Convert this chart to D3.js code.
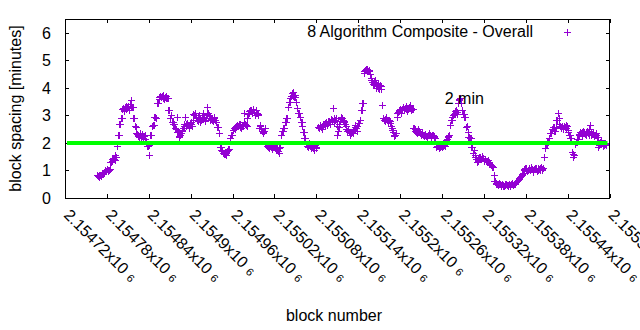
<!DOCTYPE html>
<html><head><meta charset="utf-8">
<script src="https://cdn.jsdelivr.net/npm/d3@7"></script>
<style>body{margin:0;background:#fff}svg{display:block}text{font-family:"Liberation Sans",Arial,sans-serif;fill:#000}</style>
</head><body><svg id="c" width="640" height="330"></svg>
<script>
const blocksEven=[
2154766,2154768,2154770,2154772,2154774,2154776,2154778,2154780,2154782,2154784,
2154786,2154788,2154790,2154792,2154794,2154796,2154798,2154800,2154802,2154804,
2154806,2154808,2154810,2154812,2154814,2154816,2154818,2154820,2154822,2154824,
2154826,2154828,2154830,2154832,2154834,2154836,2154838,2154840,2154842,2154844,
2154846,2154848,2154850,2154852,2154854,2154856,2154858,2154860,2154862,2154864,
2154866,2154868,2154870,2154872,2154874,2154876,2154878,2154880,2154882,2154884,
2154886,2154888,2154890,2154892,2154894,2154896,2154898,2154900,2154902,2154904,
2154906,2154908,2154910,2154912,2154914,2154916,2154918,2154920,2154922,2154924,
2154926,2154928,2154930,2154932,2154934,2154936,2154938,2154940,2154942,2154944,
2154946,2154948,2154950,2154952,2154954,2154956,2154958,2154960,2154962,2154964,
2154966,2154968,2154970,2154972,2154974,2154976,2154978,2154980,2154982,2154984,
2154986,2154988,2154990,2154992,2154994,2154996,2154998,2155000,2155002,2155004,
2155006,2155008,2155010,2155012,2155014,2155016,2155018,2155020,2155022,2155024,
2155026,2155028,2155030,2155032,2155034,2155036,2155038,2155040,2155042,2155044,
2155046,2155048,2155050,2155052,2155054,2155056,2155058,2155060,2155062,2155064,
2155066,2155068,2155070,2155072,2155074,2155076,2155078,2155080,2155082,2155084,
2155086,2155088,2155090,2155092,2155094,2155096,2155098,2155100,2155102,2155104,
2155106,2155108,2155110,2155112,2155114,2155116,2155118,2155120,2155122,2155124,
2155126,2155128,2155130,2155132,2155134,2155136,2155138,2155140,2155142,2155144,
2155146,2155148,2155150,2155152,2155154,2155156,2155158,2155160,2155162,2155164,
2155166,2155168,2155170,2155172,2155174,2155176,2155178,2155180,2155182,2155184,
2155186,2155188,2155190,2155192,2155194,2155196,2155198,2155200,2155202,2155204,
2155206,2155208,2155210,2155212,2155214,2155216,2155218,2155220,2155222,2155224,
2155226,2155228,2155230,2155232,2155234,2155236,2155238,2155240,2155242,2155244,
2155246,2155248,2155250,2155252,2155254,2155256,2155258,2155260,2155262,2155264,
2155266,2155268,2155270,2155272,2155274,2155276,2155278,2155280,2155282,2155284,
2155286,2155288,2155290,2155292,2155294,2155296,2155298,2155300,2155302,2155304,
2155306,2155308,2155310,2155312,2155314,2155316,2155318,2155320,2155322,2155324,
2155326,2155328,2155330,2155332,2155334,2155336,2155338,2155340,2155342,2155344,
2155346,2155348,2155350,2155352,2155354,2155356,2155358,2155360,2155362,2155364,
2155366,2155368,2155370,2155372,2155374,2155376,2155378,2155380,2155382,2155384,
2155386,2155388,2155390,2155392,2155394,2155396,2155398,2155400,2155402,2155404,
2155406,2155408,2155410,2155412,2155414,2155416,2155418,2155420,2155422,2155424,
2155426,2155428,2155430,2155432,2155434,2155436,2155438,2155440,2155442,2155444,
2155446,2155448,2155450,2155452,2155454,2155456,2155458,2155460,2155462,2155464,
2155466,2155468,2155470,2155472,2155474,2155476,2155478,2155480,2155482,2155484,
2155486,2155488,2155490,2155492,2155494
];
const spacingEven=[
0.82,0.78,0.85,0.80,0.86,0.95,1.02,1.05,0.98,1.04,
1.30,1.40,1.42,1.56,1.89,2.29,2.69,2.89,3.25,3.15,
3.30,3.22,3.35,3.18,3.56,3.30,2.90,2.60,2.36,2.30,
2.22,2.35,2.25,2.18,2.28,2.05,1.90,1.56,2.29,2.61,
2.65,2.95,2.92,3.44,3.60,3.72,3.65,3.74,3.58,3.70,
3.62,3.20,2.90,3.00,2.77,2.70,2.55,2.95,2.40,2.20,
2.35,2.47,2.60,2.95,2.70,2.65,2.55,2.75,2.62,3.05,
3.07,2.90,2.80,3.00,2.75,2.95,3.10,2.85,2.90,3.32,
3.00,2.83,2.90,2.80,2.90,2.75,2.59,2.35,1.86,1.75,
1.65,1.60,1.56,1.70,1.78,2.17,2.30,2.47,2.55,2.50,
2.65,2.60,2.70,2.55,2.62,3.07,2.70,2.60,3.05,3.15,
3.20,3.10,3.25,3.00,3.18,3.05,2.55,2.65,2.45,2.35,
2.55,1.95,1.88,1.82,1.90,1.78,1.85,1.92,1.75,1.80,
1.63,1.85,2.29,2.45,2.53,2.77,2.90,3.32,3.50,3.70,
3.86,3.65,3.75,3.26,3.10,2.95,2.77,2.60,2.41,2.17,
1.95,1.85,2.00,1.80,1.90,1.76,1.92,1.85,2.59,2.55,
2.65,2.50,2.70,2.60,2.75,2.65,2.80,2.70,2.85,3.26,
2.75,2.90,2.29,2.59,2.80,2.95,2.83,2.75,2.60,2.45,
2.50,2.29,2.40,2.35,2.50,2.65,2.45,2.72,2.83,3.20,
3.44,4.55,4.65,4.70,4.60,4.62,4.35,4.20,4.10,4.28,
4.00,4.15,3.95,4.05,3.38,2.90,2.80,2.95,2.75,2.85,
2.72,2.55,2.40,2.25,2.35,2.95,3.15,3.25,3.10,3.30,
3.20,3.35,3.15,3.28,3.38,3.20,3.25,2.53,2.45,2.35,
2.50,2.40,2.30,2.38,2.25,2.32,2.20,2.28,2.35,2.22,
2.30,2.25,2.18,1.86,1.95,1.80,1.90,1.85,1.95,1.88,
2.10,2.20,2.29,2.65,2.85,3.00,3.10,3.20,3.05,3.56,
3.62,3.20,3.05,2.95,2.59,2.60,2.22,2.17,1.86,1.62,
1.75,1.50,1.32,1.45,1.50,1.40,1.52,1.35,1.42,1.30,
1.38,1.28,1.20,1.14,0.84,0.60,0.52,0.48,0.55,0.45,
0.50,0.42,0.48,0.52,0.45,0.50,0.44,0.55,0.48,0.52,
0.58,0.62,0.70,0.77,0.85,0.92,1.05,1.10,0.98,1.08,
1.00,1.12,0.95,1.05,1.10,0.98,1.08,1.02,1.14,1.00,
1.48,1.80,1.95,2.05,2.17,2.35,2.50,2.59,2.45,2.83,
3.07,2.70,2.55,2.62,2.50,2.58,2.65,2.48,2.29,2.17,
1.68,1.50,1.95,2.05,2.15,2.30,2.40,2.25,2.45,2.35,
2.30,2.42,2.28,2.65,2.30,2.40,2.25,2.35,2.22,1.86,
2.00,2.10,1.95,1.92,1.95
];
const blocksOdd=[
2154767,2154769,2154771,2154773,2154775,2154777,2154779,2154781,2154783,2154785,
2154787,2154789,2154791,2154793,2154795,2154797,2154799,2154801,2154803,2154805,
2154807,2154809,2154811,2154813,2154815,2154817,2154819,2154821,2154823,2154825,
2154827,2154829,2154831,2154833,2154835,2154837,2154839,2154841,2154843,2154845,
2154847,2154849,2154851,2154853,2154855,2154857,2154859,2154861,2154863,2154865,
2154867,2154869,2154871,2154873,2154875,2154877,2154879,2154881,2154883,2154885,
2154887,2154889,2154891,2154893,2154895,2154897,2154899,2154901,2154903,2154905,
2154907,2154909,2154911,2154913,2154915,2154917,2154919,2154921,2154923,2154925,
2154927,2154929,2154931,2154933,2154935,2154937,2154939,2154941,2154943,2154945,
2154947,2154949,2154951,2154953,2154955,2154957,2154959,2154961,2154963,2154965,
2154967,2154969,2154971,2154973,2154975,2154977,2154979,2154981,2154983,2154985,
2154987,2154989,2154991,2154993,2154995,2154997,2154999,2155001,2155003,2155005,
2155007,2155009,2155011,2155013,2155015,2155017,2155019,2155021,2155023,2155025,
2155027,2155029,2155031,2155033,2155035,2155037,2155039,2155041,2155043,2155045,
2155047,2155049,2155051,2155053,2155055,2155057,2155059,2155061,2155063,2155065,
2155067,2155069,2155071,2155073,2155075,2155077,2155079,2155081,2155083,2155085,
2155087,2155089,2155091,2155093,2155095,2155097,2155099,2155101,2155103,2155105,
2155107,2155109,2155111,2155113,2155115,2155117,2155119,2155121,2155123,2155125,
2155127,2155129,2155131,2155133,2155135,2155137,2155139,2155141,2155143,2155145,
2155147,2155149,2155151,2155153,2155155,2155157,2155159,2155161,2155163,2155165,
2155167,2155169,2155171,2155173,2155175,2155177,2155179,2155181,2155183,2155185,
2155187,2155189,2155191,2155193,2155195,2155197,2155199,2155201,2155203,2155205,
2155207,2155209,2155211,2155213,2155215,2155217,2155219,2155221,2155223,2155225,
2155227,2155229,2155231,2155233,2155235,2155237,2155239,2155241,2155243,2155245,
2155247,2155249,2155251,2155253,2155255,2155257,2155259,2155261,2155263,2155265,
2155267,2155269,2155271,2155273,2155275,2155277,2155279,2155281,2155283,2155285,
2155287,2155289,2155291,2155293,2155295,2155297,2155299,2155301,2155303,2155305,
2155307,2155309,2155311,2155313,2155315,2155317,2155319,2155321,2155323,2155325,
2155327,2155329,2155331,2155333,2155335,2155337,2155339,2155341,2155343,2155345,
2155347,2155349,2155351,2155353,2155355,2155357,2155359,2155361,2155363,2155365,
2155367,2155369,2155371,2155373,2155375,2155377,2155379,2155381,2155383,2155385,
2155387,2155389,2155391,2155393,2155395,2155397,2155399,2155401,2155403,2155405,
2155407,2155409,2155411,2155413,2155415,2155417,2155419,2155421,2155423,2155425,
2155427,2155429,2155431,2155433,2155435,2155437,2155439,2155441,2155443,2155445,
2155447,2155449,2155451,2155453,2155455,2155457,2155459,2155461,2155463,2155465,
2155467,2155469,2155471,2155473,2155475,2155477,2155479,2155481,2155483,2155485,
2155487,2155489,2155491,2155493,2155495
];
const spacingOdd=[
0.80,0.84,0.82,0.88,0.90,1.00,0.98,1.03,1.00,1.30,
1.35,1.45,1.38,1.50,1.89,2.29,2.69,2.89,3.28,3.20,
3.35,3.28,3.20,3.40,3.30,3.30,2.90,2.58,2.32,2.25,
2.30,2.20,2.32,2.24,2.15,1.95,1.90,1.92,2.29,2.61,
2.65,2.95,2.92,3.44,3.68,3.66,3.70,3.62,3.68,3.64,
3.62,3.20,2.90,2.77,2.70,2.55,2.50,2.40,2.25,2.30,
2.42,2.55,2.68,2.62,2.72,2.58,2.68,2.70,2.85,3.00,
2.95,2.85,2.95,2.88,2.82,3.00,2.92,2.78,3.05,3.10,
2.92,2.88,2.85,2.95,2.82,2.75,2.59,2.35,1.86,1.70,
1.62,1.58,1.64,1.75,1.78,2.17,2.30,2.47,2.58,2.60,
2.62,2.68,2.58,2.65,2.60,2.75,2.65,2.90,3.10,3.20,
3.15,3.22,3.12,3.08,3.10,3.00,2.60,2.55,2.40,2.45,
1.95,1.90,1.85,1.88,1.84,1.82,1.88,1.86,1.78,1.72,
1.80,2.29,2.45,2.53,2.77,2.90,3.32,3.50,3.62,3.80,
3.72,3.68,3.50,3.26,3.10,2.95,2.77,2.41,2.17,1.95,
1.90,1.92,1.88,1.85,1.82,1.88,1.80,1.95,2.59,2.62,
2.58,2.62,2.68,2.72,2.70,2.78,2.75,2.88,2.80,2.92,
2.82,2.60,2.45,2.70,2.88,2.90,2.78,2.68,2.52,2.48,
2.40,2.35,2.38,2.42,2.58,2.55,2.60,2.72,2.83,3.20,
3.44,4.60,4.68,4.64,4.66,4.50,4.30,4.15,4.22,4.18,
4.08,4.00,4.10,3.95,2.90,2.85,2.88,2.82,2.80,2.78,
2.62,2.48,2.30,2.28,3.10,3.12,3.20,3.18,3.22,3.25,
3.28,3.22,3.24,3.30,3.28,3.22,2.53,2.50,2.40,2.42,
2.45,2.35,2.34,2.30,2.28,2.26,2.24,2.30,2.28,2.26,
2.28,2.22,1.95,1.90,1.88,1.85,1.92,1.90,1.92,2.00,
2.15,2.25,2.65,2.85,2.95,3.05,3.15,3.12,3.45,3.58,
3.45,3.20,3.05,2.95,2.59,2.40,2.22,2.17,1.86,1.62,
1.55,1.42,1.35,1.48,1.45,1.46,1.44,1.40,1.36,1.34,
1.32,1.25,1.18,1.14,0.60,0.56,0.50,0.52,0.50,0.48,
0.46,0.45,0.50,0.48,0.47,0.46,0.50,0.52,0.50,0.54,
0.60,0.66,0.74,0.80,0.88,1.00,1.08,1.04,1.02,1.05,
1.06,1.04,1.00,1.08,1.05,1.02,1.04,1.08,1.06,1.10,
1.80,1.95,2.05,2.17,2.35,2.50,2.59,2.45,2.55,2.83,
2.90,2.62,2.58,2.56,2.60,2.55,2.60,2.40,2.29,2.17,
1.60,1.55,1.95,2.05,2.15,2.32,2.35,2.38,2.40,2.32,
2.38,2.35,2.50,2.40,2.34,2.32,2.30,2.28,2.22,1.92,
2.05,2.00,1.90,1.98,1.92
];
const xTickValues=[2154720,2154780,2154840,2154900,2154960,2155020,2155080,2155140,2155200,2155260,2155320,2155380,2155440,2155500];
const xTickMantissas=["2.15472","2.15478","2.15484","2.1549","2.15496","2.15502","2.15508","2.15514","2.1552","2.15526","2.15532","2.15538","2.15544","2.1555"];
const xTickExponent="6";
const yTickValues=[0,1,2,3,4,5,6];
const targetSpacing=[2];
const seriesLabel="8 Algorithm Composite - Overall";
const annotationText="2 min";
const annotationPos=[2155264,3.4];
const xLabel="block number";
const yLabel="block spacing [minutes]";

const svg=d3.select("#c");
const L=65,R=609.5,T=19,B=198;
const x=d3.scaleLinear().domain([2154720,2155500]).range([L,R]);
const y=d3.scaleLinear().domain([0,6.5]).range([B,T]);
const FS=16, purple="#9400d3";

// ticks (inward, mirrored)
const tk=4;
svg.append("g").attr("transform",`translate(${L},0)`).call(d3.axisLeft(y).tickValues(yTickValues).tickSize(-tk).tickFormat("")).call(g=>g.select(".domain").remove());
svg.append("g").attr("transform",`translate(${R},0)`).call(d3.axisRight(y).tickValues(yTickValues).tickSize(-tk).tickFormat("")).call(g=>g.select(".domain").remove());
svg.append("g").attr("transform",`translate(0,${B})`).call(d3.axisBottom(x).tickValues(xTickValues).tickSize(-tk).tickFormat("")).call(g=>g.select(".domain").remove());
svg.append("g").attr("transform",`translate(0,${T})`).call(d3.axisTop(x).tickValues(xTickValues).tickSize(-tk).tickFormat("")).call(g=>g.select(".domain").remove());
svg.selectAll(".tick line").attr("stroke","#000").attr("shape-rendering","crispEdges");

// y tick labels
svg.append("g").selectAll("text").data(yTickValues).join("text")
  .attr("x",51).attr("y",d=>y(d)).attr("dy","0.36em").attr("text-anchor","end")
  .attr("font-size",FS).text(d=>d);

// x tick labels rotated
const xl=svg.append("g").selectAll("text").data(xTickValues).join("text")
  .attr("transform",d=>`translate(${x(d)-2},216) rotate(45)`)
  .attr("font-size",FS);
xl.append("tspan").text((d,i)=>xTickMantissas[i]+"x10");
xl.append("tspan").attr("dx",5).attr("dy",0).attr("font-size",11).text(xTickExponent);

// points
const data=blocksEven.map((b,i)=>[b,spacingEven[i]]).concat(blocksOdd.map((b,i)=>[b,spacingOdd[i]]));
const pts=svg.append("g").attr("stroke",purple).attr("stroke-width",1).attr("fill","none");
const s=3.5;
pts.selectAll("path").data(data).join("path")
  .attr("d",d=>{const px=Math.round(x(d[0]))+0.5,py=Math.round(y(d[1]))+0.5;return `M${px-s},${py}H${px+s}M${px},${py-s}V${py+s}`;});

// 2 minute line
svg.append("g").selectAll("line").data(targetSpacing).join("line")
  .attr("x1",L+2).attr("x2",R-2).attr("y1",d=>y(d)).attr("y2",d=>y(d))
  .attr("stroke","#00ff00").attr("stroke-width",4);

// border
svg.append("rect").attr("x",L).attr("y",T+0.5).attr("width",R-L).attr("height",B-T)
  .attr("fill","none").attr("stroke","#000").attr("stroke-width",1).attr("shape-rendering","crispEdges");

// legend
svg.append("text").attr("x",533).attr("y",37).attr("text-anchor","end").attr("font-size",FS).text(seriesLabel);
svg.append("path").attr("stroke",purple).attr("d",`M${567.5-s},32.5H${567.5+s}M567.5,${32.5-s}V${32.5+s}`);

// annotation
svg.append("text").attr("x",x(annotationPos[0])).attr("y",y(annotationPos[1])).attr("font-size",FS).text(annotationText);

// axis labels
svg.append("text").attr("transform","translate(21,108.5) rotate(-90)").attr("text-anchor","middle").attr("font-size",FS).text(yLabel);
svg.append("text").attr("x",334).attr("y",321).attr("text-anchor","middle").attr("font-size",FS).text(xLabel);
</script></body></html>
